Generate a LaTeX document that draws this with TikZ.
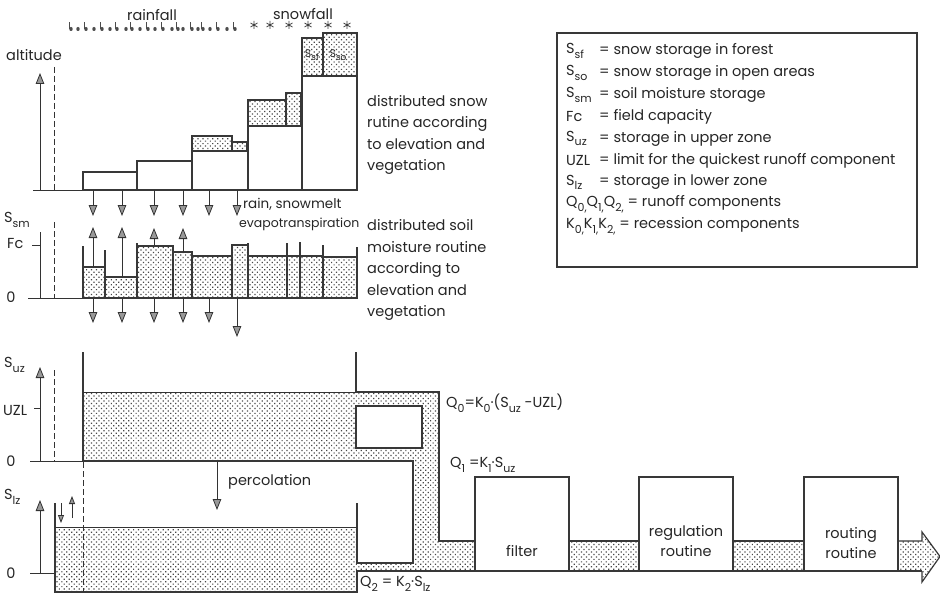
\documentclass[tikz,border=0pt]{standalone}
\usepackage{fontspec}
\setmainfont{Poppins}
\usetikzlibrary{arrows.meta,patterns.meta}
\newcommand{\sbs}[2][11]{\raisebox{-0.32em}{\fontsize{#1}{#1}\selectfont #2}}
\begin{document}
\begin{tikzpicture}[x=1pt,y=-1pt,
  ln/.style={draw=black!80,line width=0.8pt},
  wall/.style={draw=black!78,line width=1.8pt},
  mwall/.style={draw=black!78,line width=1.2pt},
  dotfill/.style={pattern={Dots[distance=3.5pt,radius=0.85pt,angle=45]},pattern color=black!72},
  arr/.style={ln,-{Triangle[length=11pt,width=8.5pt,fill=black!40]}},
  sarr/.style={ln,-{Triangle[length=8pt,width=6pt,fill=black!40]}},
  txt/.style={inner sep=0pt,font=\fontsize{14.5}{16}\selectfont,text=black!85},
  mtxt/.style={txt,align=left,font=\fontsize{14.5}{21.5}\selectfont},
  dsh/.style={ln,dash pattern=on 6pt off 3pt},
  boxst/.style={wall,fill=white,minimum width=94pt,minimum height=94pt,inner sep=0pt},
]
\useasboundingbox (0,0) rectangle (940,599);
\fill[white] (0,0) rectangle (940,599);

% ---------- precipitation ----------
\node[txt] (rainlbl) at (152,15) {rainfall};
\node[txt] (snowlbl) at (303,14) {snowfall};
\foreach \x [count=\i] in {71,78,86,94,102,110,117,126,132,140,148,155,163,172,178,183,192,198,203,210,218,227,235}{
  \fill[black!70] (\x,29) ellipse (1.7pt and 2pt);
  \ifodd\i \draw[black!70,line width=0.7pt] (\x-1.4,29) -- (\x-1.4,22); \fi
}
\foreach \x in {254,270,289,308,328,347}
  \draw[black!75,line width=0.8pt] (\x,21)--(\x,29) (\x-3.5,23)--(\x+3.5,27) (\x-3.5,27)--(\x+3.5,23);

% ---------- snow routine ----------
\node[txt] (altlbl) at (34,55) {altitude};
\draw[arr] (40,190) -- (40,73);
\draw[dsh] (54,67) -- (54,190);
\draw[ln] (33,190) -- (357,190);
\foreach \xa/\xb/\yt in {83/137/172,137/192/161,192/248/151,248/302/126,302/357/76}
  \draw[wall,fill=white] (\xa,190) rectangle (\xb,\yt);
\foreach \xa/\xb/\ya/\yb in {192/232/136/151,232/247/142/151,248/286/100/126,286/301/93/126,302/323/38/76,323/357/33/76}
  \draw[wall,dotfill] (\xa,\ya) rectangle (\xb,\yb);
\node[txt,font=\fontsize{11}{11}\selectfont] (ssflbl) at (312,55) {S\sbs[9]{sf}};
\node[txt,font=\fontsize{11}{11}\selectfont] (ssolbl) at (338,55) {S\sbs[9]{so}};
\node[mtxt,anchor=west] (snowtxt) at (367,135) {distributed snow\\rutine according\\to elevation and\\vegetation};

\foreach \x in {93,122,154,183,209,237} \draw[arr] (\x,190) -- (\x,216);
\node[txt,anchor=west,font=\fontsize{13.5}{15}\selectfont] (rainsm) at (243,204) {rain, snowmelt};
\node[txt,anchor=west,font=\fontsize{12.5}{15}\selectfont] (evap) at (239,224) {evapotranspiration};

% ---------- soil moisture routine ----------
\node[txt,anchor=west] (ssmlbl) at (4,220) {S\sbs{sm}};
\node[txt,anchor=west] (fclbl) at (7,244) {Fc};
\node[txt] (zero1) at (11,297) {0};
\draw[ln] (32,245) -- (40,245);
\draw[ln] (40,232) -- (40,298);
\draw[dsh] (54,222) -- (54,298);
\draw[ln] (28,298) -- (357,298);
\foreach \xa/\xb/\yt in {83/105/267,105/137/277,137/173/246,173/192/252,192/232/256,232/248/245,248/287/256,287/300/256,300/323/256,323/357/257}
  \draw[mwall,dotfill] (\xa,298) rectangle (\xb,\yt);
\foreach \x/\yt in {83/246,105/250,137/243,248/243,287/243,300/242,323/245,357/247}
  \draw[mwall] (\x,298) -- (\x,\yt);
\draw[arr] (93,267) -- (93,227);
\draw[arr] (122,277) -- (122,227);
\draw[arr] (154,246) -- (154,228);
\draw[arr] (183,252) -- (183,228);
\foreach \x in {93,122,154,183,209} \draw[arr] (\x,298) -- (\x,323);
\draw[arr] (237,298) -- (237,337);
\node[mtxt,anchor=west] (soiltxt) at (367,270) {distributed soil\\moisture routine\\according to\\elevation and\\vegetation};

% ---------- response: dotted water ----------
\fill[dotfill,even odd rule] (83,392) rectangle (439,461) (356,406) rectangle (422,448);
\fill[dotfill] (413,461) rectangle (439,571);
\fill[dotfill] (357,563) rectangle (413,571);
\fill[dotfill] (55,527) rectangle (357,592);
\fill[dotfill] (439,541) -- (922,541) -- (922,532) -- (940,556.5) -- (922,582) -- (922,571) -- (439,571) -- cycle;

% boxes
\node[boxst] (filterbox) at (522,524) {};
\node[boxst] (regbox) at (686,524) {};
\node[boxst] (routbox) at (851,524) {};
\node[txt] (filtertxt) at (522,551) {filter};
\node[txt,align=center,font=\fontsize{14.5}{20}\selectfont] (regtxt) at (686,541) {regulation\\routine};
\node[txt,align=center,font=\fontsize{14.5}{20}\selectfont] (routtxt) at (851,543) {routing\\routine};

% upper zone outlines
\draw[wall] (83,352) -- (83,461);
\draw[wall] (356,352) -- (356,392) -- (439,392) -- (439,541) -- (filterbox.west |- 0,541);
\draw[ln] (83,392) -- (356,392);
\draw[wall] (356,406) rectangle (422,448);
\draw[wall] (83,461) -- (413,461) -- (413,563) -- (357,563) -- (357,503);
% lower zone outlines
\draw[wall] (55,503) -- (55,592) -- (357,592) -- (357,571) -- (922,571);
\draw[ln] (55,527) -- (357,527);
\draw[wall] (filterbox.east |- 0,541) -- (regbox.west |- 0,541);
\draw[wall] (regbox.east |- 0,541) -- (routbox.west |- 0,541);
\draw[mwall] (routbox.east |- 0,541) -- (922,541) -- (922,532) -- (940,556.5) -- (922,582) -- (922,571);

% axes & labels, upper zone
\node[txt,anchor=west] (suzlbl) at (4,365) {S\sbs{uz}};
\node[txt,anchor=west] (uzllbl) at (3,410) {UZL};
\node[txt] (zero2) at (11,461) {0};
\draw[arr] (40,461) -- (40,367);
\draw[ln] (34,408) -- (40,408);
\draw[dsh] (54,370) -- (54,461);
\draw[ln] (30,461) -- (83,461);
% lower zone
\node[txt,anchor=west] (slzlbl) at (4,497) {S\sbs{lz}};
\node[txt] (zero3) at (11,573) {0};
\draw[arr] (40,573) -- (40,500);
\draw[ln] (30,573) -- (55,573);
\draw[sarr] (61,503) -- (61,523);
\draw[sarr] (72,518) -- (72,496);
\draw[dsh] (83,462) -- (83,592);
\draw[arr] (217,461) -- (217,510);
\node[txt,anchor=west] (perclbl) at (228,482) {percolation};

\node[txt,anchor=west] (q0lbl) at (446,403) {Q\sbs{0}=K\sbs{0}·(S\sbs{uz} -UZL)};
\node[txt,anchor=west] (q1lbl) at (450,465) {Q\sbs{1} =K\sbs{1}·S\sbs{uz}};
\node[txt,anchor=west] (q2lbl) at (360,584) {Q\sbs{2} = K\sbs{2}·S\sbs{lz}};

% ---------- legend ----------
\draw[wall,line width=1.5pt] (557,33) rectangle (917,267);
\foreach \lab/\defn [count=\i from 0] in {
  S\sbs{sf}/= snow storage in forest,
  S\sbs{so}/= snow storage in open areas,
  S\sbs{sm}/= soil moisture storage,
  Fc/= field capacity,
  S\sbs{uz}/= storage in upper zone,
  UZL/= limit for the quickest runoff component,
  S\sbs{lz}/= storage in lower zone}{
  \node[txt,anchor=west] (leglab\i) at (566,51+21.9*\i) {\lab};
  \node[txt,anchor=west] (legdef\i) at (599,51+21.9*\i) {\defn};
}
\node[txt,anchor=west] (legq) at (566,51+21.9*7) {Q\sbs{0,}Q\sbs{1,}Q\sbs{2,} = runoff components};
\node[txt,anchor=west] (legk) at (566,51+21.9*8) {K\sbs{0,}K\sbs{1,}K\sbs{2,} = recession components};
\end{tikzpicture}
\end{document}
